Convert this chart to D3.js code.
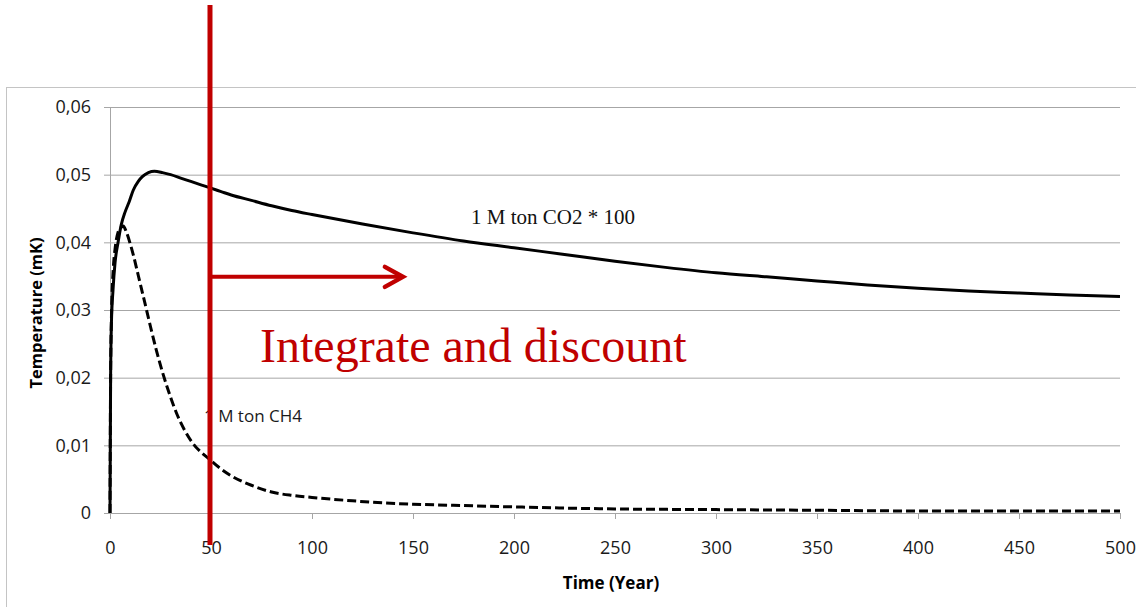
<!DOCTYPE html>
<html>
<head>
<meta charset="utf-8">
<script src="https://cdn.jsdelivr.net/npm/d3@7/dist/d3.min.js"></script>
<style>
  html, body { margin: 0; padding: 0; background: #fff; }
  svg { display: block; }
</style>
</head>
<body>
<svg id="chart" width="1136" height="607"></svg>
<script>
// ---- data ----
const xTicks = [0, 50, 100, 150, 200, 250, 300, 350, 400, 450, 500];
const yTicks = [0, 0.01, 0.02, 0.03, 0.04, 0.05, 0.06];
const yTickLabels = ["0", "0,01", "0,02", "0,03", "0,04", "0,05", "0,06"];

const co2Years  = [0, 0.3, 0.7, 1.5, 2.5, 4, 5.5, 7.5, 9.5, 11.5, 14, 16, 19, 22, 26, 30, 35, 40, 45, 50, 55, 60, 70, 80, 90, 100, 125, 150, 175, 200, 225, 250, 275, 300, 325, 350, 375, 400, 425, 450, 475, 500];
const co2Values = [0, 0.02, 0.028, 0.033, 0.037, 0.040, 0.0425, 0.0445, 0.046, 0.0477, 0.0490, 0.0497, 0.0503, 0.0505, 0.0503, 0.0500, 0.0495, 0.0490, 0.0485, 0.0480, 0.0475, 0.0470, 0.0462, 0.0454, 0.0447, 0.0441, 0.0427, 0.0414, 0.0402, 0.0392, 0.0382, 0.0372, 0.0363, 0.0355, 0.0349, 0.0343, 0.0337, 0.0332, 0.0328, 0.0325, 0.0322, 0.0320];

const ch4Years  = [0, 0.3, 0.8, 1.6, 2.5, 4, 5.5, 6.6, 8, 10, 11.5, 14, 16.5, 20, 23, 26.5, 30, 33, 37, 41, 45, 49, 55, 60, 70, 80, 90, 100, 120, 135, 150, 175, 200, 230, 250, 300, 350, 400, 450, 500];
const ch4Values = [0, 0.02, 0.03, 0.036, 0.039, 0.0415, 0.0422, 0.0424, 0.0416, 0.0398, 0.0382, 0.0351, 0.0320, 0.0276, 0.0240, 0.0203, 0.0171, 0.0147, 0.0122, 0.0103, 0.0090, 0.0080, 0.0065, 0.0055, 0.0041, 0.0031, 0.0026, 0.0023, 0.0018, 0.0015, 0.0013, 0.0011, 0.0009, 0.0007, 0.0006, 0.0005, 0.0004, 0.0003, 0.0003, 0.0003];

const xTitle = "Time (Year)";
const yTitle = "Temperature (mK)";
const co2Label = "1 M ton CO2 * 100";
const ch4Label = "1 M ton CH4";
const annotText = "Integrate and discount";
const markYear = 49.5;      // red vertical marker
const arrowEndYear = 145;   // arrow tip
const arrowValue = 0.0349;  // arrow level

// ---- drawing ----
const svg = d3.select("#chart");
const x = d3.scaleLinear().domain([0, 500]).range([110, 1120]);
const y = d3.scaleLinear().domain([0, 0.06]).range([513, 107]);
const gridColor = "#a6a6a6";
const red = "#c00000";
const sans = "'Open Sans', 'Liberation Sans', sans-serif";
const serif = "'Liberation Serif', 'DejaVu Serif', serif";

// outer chart border
svg.append("rect")
  .attr("x", 6.5).attr("y", 87.5).attr("width", 1300).attr("height", 600)
  .attr("fill", "none").attr("stroke", "#c4c4c4").attr("stroke-width", 1);

// y axis with gridlines
const yAxis = svg.append("g")
  .attr("transform", `translate(${x(0)},0)`)
  .call(d3.axisLeft(y).tickValues(yTicks)
    .tickFormat((d, i) => yTickLabels[i])
    .tickSizeInner(6).tickSizeOuter(0).tickPadding(13));
yAxis.select(".domain").attr("stroke", gridColor);
yAxis.selectAll(".tick line").attr("stroke", gridColor);
yAxis.selectAll(".tick text").attr("font-family", sans).attr("font-size", 18).attr("fill", "#1a1a1a");
yAxis.selectAll(".tick").append("line")
  .attr("x1", 0).attr("x2", x(500) - x(0))
  .attr("stroke", gridColor).attr("stroke-width", 1);

// x axis
const xAxis = svg.append("g")
  .attr("transform", `translate(0,${y(0)})`)
  .call(d3.axisBottom(x).tickValues(xTicks)
    .tickSizeInner(6).tickSizeOuter(0).tickPadding(22));
xAxis.select(".domain").attr("stroke", gridColor);
xAxis.selectAll(".tick line").attr("stroke", gridColor);
xAxis.selectAll(".tick text").attr("font-family", sans).attr("font-size", 18).attr("fill", "#1a1a1a");

// axis titles
svg.append("text")
  .attr("transform", `translate(42,313) rotate(-90)`)
  .attr("text-anchor", "middle")
  .attr("font-family", sans).attr("font-weight", "bold").attr("font-size", 16.5)
  .text(yTitle);
svg.append("text")
  .attr("x", 611).attr("y", 589)
  .attr("text-anchor", "middle")
  .attr("font-family", sans).attr("font-weight", "bold").attr("font-size", 17)
  .text(xTitle);

// series
const line = d3.line().curve(d3.curveMonotoneX)
  .x(d => x(d[0])).y(d => y(d[1]));
svg.append("path")
  .datum(ch4Years.map((t, i) => [t, ch4Values[i]]))
  .attr("d", line).attr("fill", "none")
  .attr("stroke", "#000").attr("stroke-width", 3)
  .attr("stroke-dasharray", "9,4");
svg.append("path")
  .datum(co2Years.map((t, i) => [t, co2Values[i]]))
  .attr("d", line).attr("fill", "none")
  .attr("stroke", "#000").attr("stroke-width", 3);

// series labels
svg.append("text")
  .attr("x", 471).attr("y", 224)
  .attr("font-family", serif).attr("font-size", 21).attr("fill", "#111")
  .text(co2Label);
svg.append("text")
  .attr("x", 204).attr("y", 422)
  .attr("font-family", sans).attr("font-size", 17).attr("fill", "#1a1a1a")
  .text(ch4Label);

// annotation text
svg.append("text")
  .attr("x", 260).attr("y", 362)
  .attr("font-family", serif).attr("font-size", 48).attr("fill", red)
  .text(annotText);

// red vertical line
svg.append("line")
  .attr("x1", x(markYear)).attr("x2", x(markYear))
  .attr("y1", 5).attr("y2", 545)
  .attr("stroke", red).attr("stroke-width", 5);

// red arrow
const ay = y(arrowValue);
const ax2 = x(arrowEndYear);
svg.append("line")
  .attr("x1", x(markYear)).attr("x2", ax2 - 2)
  .attr("y1", ay).attr("y2", ay)
  .attr("stroke", red).attr("stroke-width", 4);
svg.append("path")
  .attr("d", `M${ax2 - 18},${ay - 10} L${ax2},${ay} L${ax2 - 18},${ay + 10}`)
  .attr("fill", "none").attr("stroke", red).attr("stroke-width", 4.5)
  .attr("stroke-linecap", "round").attr("stroke-linejoin", "miter");
</script>
</body>
</html>
